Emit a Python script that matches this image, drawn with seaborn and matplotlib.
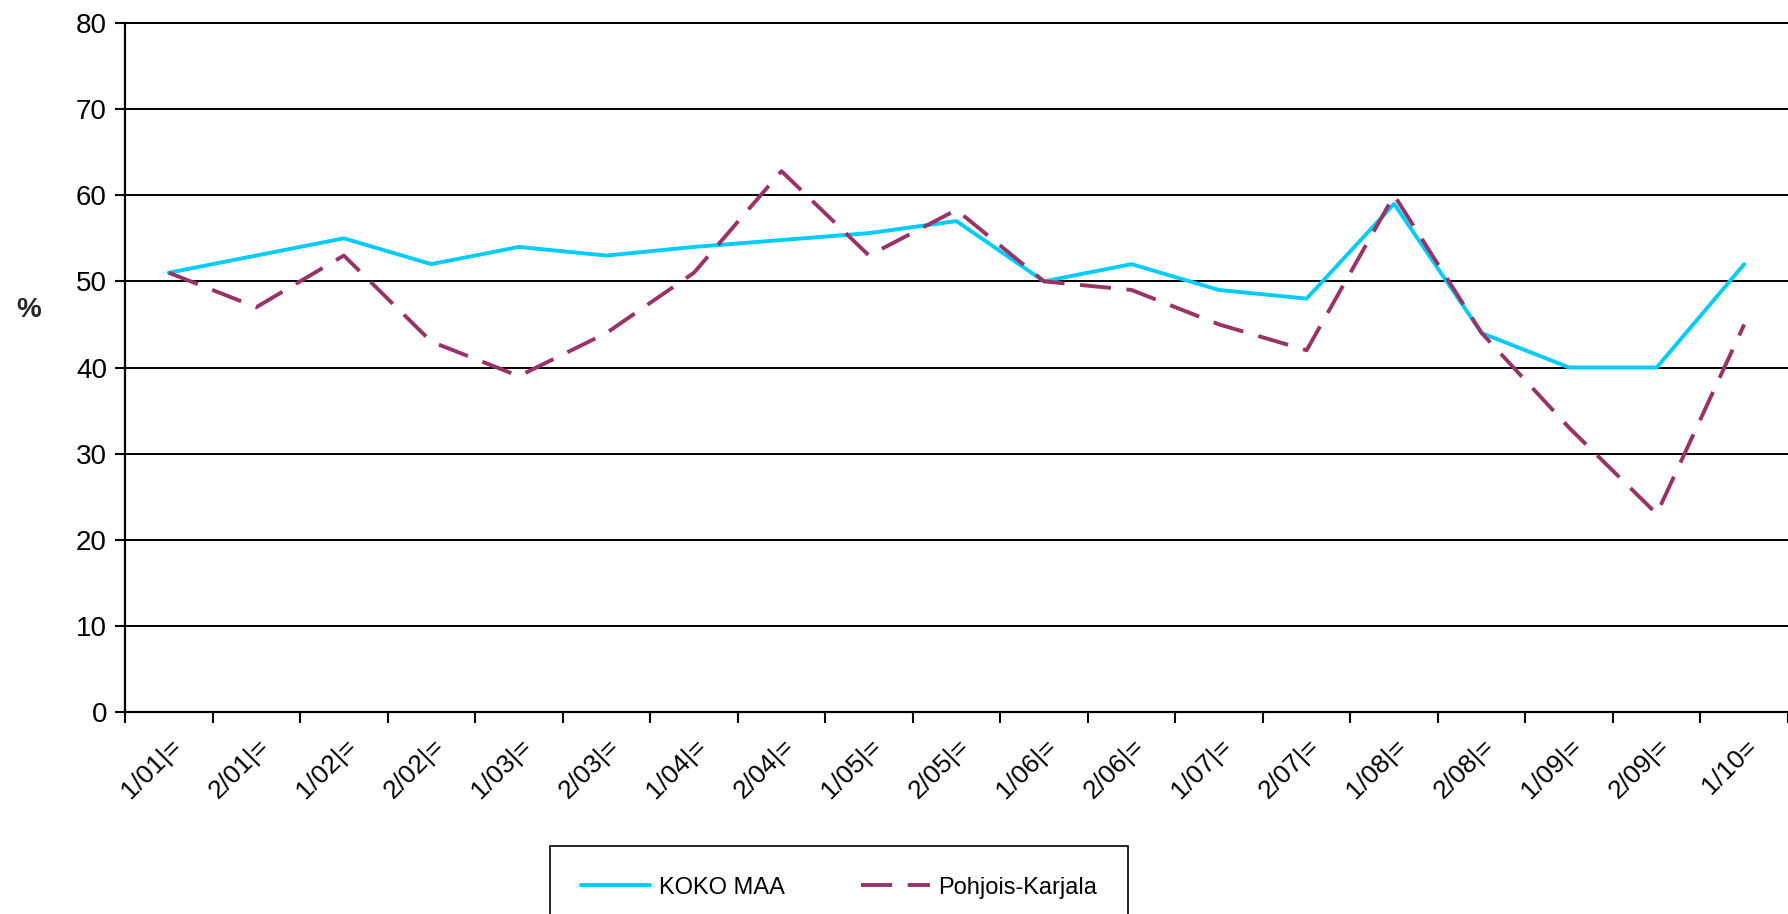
import numpy as np
import pandas as pd
import matplotlib
matplotlib.use("Agg")
import matplotlib.pyplot as plt
import seaborn as sns

periods = ["1/01|=", "2/01|=", "1/02|=", "2/02|=", "1/03|=", "2/03|=", "1/04|=", "2/04|=",
           "1/05|=", "2/05|=", "1/06|=", "2/06|=", "1/07|=", "2/07|=", "1/08|=", "2/08|=",
           "1/09|=", "2/09|=", "1/10="]
koko_maa = [51, 53, 55, 52, 54, 53, 54, 54.8, 55.6, 57, 50, 52, 49, 48, 59, 44, 40, 40, 52]
pohjois_karjala = [51, 47, 53, 43, 39, 44, 51, 62.8, 53, 58.3, 50, 49, 45, 42, 60, 44, 33, 23, 45]
series_names = ["KOKO MAA", "Pohjois-Karjala"]

sns.set_theme(style="white")
plt.rcParams["font.family"] = ["Liberation Sans", "DejaVu Sans"]

pos = list(range(len(periods)))
df = pd.DataFrame({
    "pos": pos * 2,
    "value": koko_maa + pohjois_karjala,
    "series": [series_names[0]] * len(pos) + [series_names[1]] * len(pos),
})

fig = plt.figure(figsize=(17.88, 9.14), dpi=100)
ax = fig.add_axes([125 / 1788, 1 - 712 / 914, 1 - 125 / 1788, (712 - 23) / 914])

palette = {series_names[0]: "#00CCFF", series_names[1]: "#993366"}
dashes = {series_names[0]: "", series_names[1]: (8, 4)}
sns.lineplot(data=df, x="pos", y="value", hue="series", style="series",
             palette=palette, dashes=dashes, linewidth=2.8, ax=ax, legend=False)

ax.set_ylim(0, 80)
ax.set_yticks(range(0, 81, 10))
ax.set_xlim(-0.5, 18.29)
ax.set_xticks(pos)
ax.set_xticklabels(periods, rotation=45, ha="right", rotation_mode="anchor", fontsize=19)
ax.set_xticks(np.arange(-0.5, len(periods), 1.0), minor=True)
ax.tick_params(axis="x", which="major", bottom=True, length=0, pad=16, labelcolor="black")
ax.tick_params(axis="x", which="minor", bottom=True, length=8, width=1.5, color="black", direction="out")
ax.tick_params(axis="y", left=True, length=7, width=1.5, color="black", direction="out",
               labelsize=20, pad=6, labelcolor="black")
ax.grid(axis="y", color="black", linewidth=1.4)
ax.grid(axis="x", visible=False)
ax.set_axisbelow(True)
for s in ["left", "bottom"]:
    ax.spines[s].set_color("black")
    ax.spines[s].set_linewidth(1.6)
ax.spines["top"].set_visible(True)
ax.spines["top"].set_color("black")
ax.spines["top"].set_linewidth(1.4)
ax.spines["right"].set_visible(False)
ax.set_xlabel("")
ax.set_ylabel("%", rotation=0, fontsize=20, fontweight="bold", va="center", ha="center")
ax.yaxis.set_label_coords(-0.058, 0.583)

handles = ax.get_lines()[:2]
leg = fig.legend(handles, series_names, loc="upper left",
                 bbox_to_anchor=(550 / 1788, 0, (1128 - 550) / 1788, 1 - 846 / 914),
                 mode="expand", ncol=2, frameon=True, fancybox=False, fontsize=17,
                 handlelength=2.95, borderpad=1.3, borderaxespad=0, handletextpad=0.35,
                 columnspacing=2.0, framealpha=1)
leg.get_frame().set_edgecolor("black")
leg.get_frame().set_linewidth(1.2)
for t in leg.get_texts():
    t.set_color("black")

fig.savefig("out.png", dpi=100)
